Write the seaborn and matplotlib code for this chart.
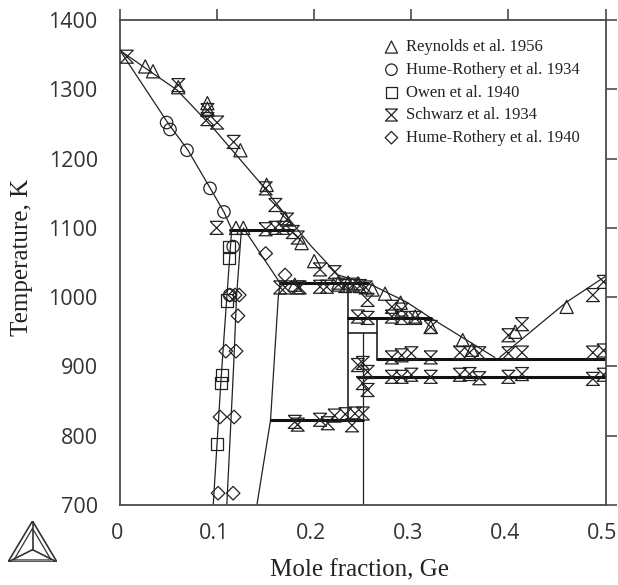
import matplotlib
matplotlib.use('Agg')
import matplotlib.pyplot as plt
import seaborn as sns
from matplotlib.path import Path
from matplotlib.transforms import ScaledTranslation

# measured points, mole fraction / temperature
reynolds_x = [0.026, 0.034, 0.060, 0.090, 0.090, 0.124, 0.151, 0.1195, 0.127, 0.170, 0.187, 0.200,
              0.225, 0.235, 0.245, 0.260, 0.273, 0.289, 0.304, 0.320, 0.353, 0.3625, 0.407, 0.460, 0.180]
reynolds_t = [1333, 1326, 1303, 1280, 1272, 1212, 1162, 1100, 1100, 1114, 1078, 1052,
              1021, 1021, 1020, 1011, 1005, 992, 972, 957, 938, 924, 950, 986, 1018]
hume34_x = [0.048, 0.0515, 0.069, 0.0927, 0.107, 0.1165, 0.113]
hume34_t = [1252, 1242, 1212, 1157, 1123, 1073, 1003]
owen_x = [0.1125, 0.1125, 0.110, 0.105, 0.104, 0.100]
owen_t = [1072, 1056, 995, 888, 876, 788]
schwarz_x = [0.007, 0.060, 0.090, 0.090, 0.100, 0.117, 0.150, 0.160, 0.0995, 0.150, 0.160, 0.168, 0.178, 0.172, 0.183,
             0.170, 0.183, 0.206, 0.213, 0.221, 0.206, 0.165, 0.185, 0.225, 0.232, 0.240, 0.247, 0.253, 0.255,
             0.245, 0.255, 0.280, 0.290, 0.280, 0.290, 0.304, 0.320,
             0.280, 0.290, 0.300, 0.320, 0.350, 0.360, 0.370, 0.400, 0.414, 0.487, 0.498,
             0.280, 0.290, 0.300, 0.320, 0.350, 0.360, 0.370, 0.400, 0.414, 0.487, 0.498,
             0.400, 0.414, 0.487, 0.498,
             0.245, 0.250, 0.255, 0.250, 0.255,
             0.180, 0.183, 0.206, 0.214, 0.221, 0.232, 0.242, 0.250, 0.239]
schwarz_t = [1347, 1306, 1270, 1257, 1252, 1224, 1157, 1133, 1100, 1098, 1100, 1100, 1094, 1112, 1086,
             1014, 1014, 1040, 1015, 1036, 1015, 1014, 1014, 1018, 1016, 1018, 1016, 1014, 996,
             972, 970, 986, 982, 972, 970, 970, 957,
             913, 916, 919, 913, 920, 920, 919, 919, 920, 920, 923,
             885, 885, 888, 885, 888, 889, 883, 885, 889, 882, 888,
             945, 961, 1003, 1022,
             902, 905, 892, 876, 866,
             820, 816, 823, 818, 829, 831, 832, 832, 815]
hume40_x = [0.101, 0.1165, 0.103, 0.1175, 0.109, 0.1195, 0.1215, 0.1228, 0.1185, 0.150, 0.170, 0.113]
hume40_t = [717, 717, 827, 827, 922, 922, 973, 1003, 1003, 1063, 1032, 1003]

liq_upper_x = [0, 0.0587, 0.096, 0.148, 0.1565, 0.196, 0.2245, 0.26, 0.295, 0.32, 0.386]
liq_upper_t = [1356, 1299, 1244, 1159, 1143, 1075, 1032, 1017, 993, 970, 913]
liq_right_x = [0.391, 0.46, 0.50]
liq_right_t = [913, 993, 1030]
liq_lower_x = [0, 0.05, 0.07, 0.093, 0.107, 0.115]
liq_lower_t = [1356, 1250, 1212, 1157, 1123, 1098]
liq_mid_x = [0.127, 0.165]
liq_mid_t = [1100, 1020]
sol_a_x = [0.115, 0.11, 0.104, 0.096]
sol_a_t = [1097, 1000, 880, 700]
sol_b_x = [0.125, 0.12, 0.117, 0.11]
sol_b_t = [1097, 1000, 900, 700]
sol_c_x = [0.165, 0.163, 0.155, 0.141]
sol_c_t = [1020, 1000, 822, 700]
thin_lines = [(liq_upper_x, liq_upper_t), (liq_right_x, liq_right_t), (liq_lower_x, liq_lower_t),
              (liq_mid_x, liq_mid_t), (sol_a_x, sol_a_t), (sol_b_x, sol_b_t), (sol_c_x, sol_c_t),
              ([0.25, 0.25], [948, 700])]
mid_lines = [([0.235, 0.235], [1020, 822]), ([0.265, 0.265], [970, 912]), ([0.235, 0.265], [948, 948])]
thick_lines = [([0.113, 0.178], [1097, 1097]), ([0.165, 0.255], [1020, 1020]), ([0.235, 0.32], [970, 970]),
               ([0.265, 0.5], [911, 911]), ([0.245, 0.5], [885, 885]), ([0.155, 0.25], [822, 822])]

x_ticks = [0, 0.1, 0.2, 0.3, 0.4, 0.5]
x_labels = ['0', '0.1', '0.2', '0.3', '0.4', '0.5']
y_ticks = [700, 800, 900, 1000, 1100, 1200, 1300, 1400]

hourglass = Path([(-1, 1), (1, 1), (-1, -1), (1, -1), (-1, 1)], closed=False)
INK = '#222222'
AXIS = '#4a4a4a'

sns.set_style('white')
fig = plt.figure(figsize=(6.18, 5.85), dpi=100)
ax = fig.add_axes([120 / 618, 1 - 505 / 585, 485.5 / 618, 485 / 585])

for xs, ts in thin_lines:
    sns.lineplot(x=xs, y=ts, sort=False, estimator=None, color=INK, lw=0.9, ax=ax)
for xs, ts in mid_lines:
    sns.lineplot(x=xs, y=ts, sort=False, estimator=None, color=INK, lw=1.2, ax=ax)
for xs, ts in thick_lines:
    sns.lineplot(x=xs, y=ts, sort=False, estimator=None, color='#111111', lw=2.2, ax=ax)

series = [(reynolds_x, reynolds_t, '^', 90, 'Reynolds et al. 1956'),
          (hume34_x, hume34_t, 'o', 80, 'Hume-Rothery et al. 1934'),
          (owen_x, owen_t, 's', 78, 'Owen et al. 1940'),
          (schwarz_x, schwarz_t, hourglass, 88, 'Schwarz et al. 1934'),
          (hume40_x, hume40_t, 'D', 48, 'Hume-Rothery et al. 1940')]
for xs, ts, mk, size, name in series:
    sns.scatterplot(x=xs, y=ts, marker=mk, s=size, facecolor='none', edgecolor=INK,
                    linewidth=0.9, label=name, ax=ax, zorder=3)

ax.set_xlim(0, 0.5)
ax.set_ylim(700, 1400)
ax.set_xticks(x_ticks, x_labels)
ax.set_yticks(y_ticks)
ax.tick_params(axis='both', which='major', direction='out', length=8, width=1.2, color=AXIS,
               top=True, right=True, labelsize=15.5, labelcolor='#333333')
ax.tick_params(axis='y', pad=8)
ax.tick_params(axis='x', pad=5)
for lab in ax.get_xticklabels() + ax.get_yticklabels():
    lab.set_fontfamily('Open Sans')
# x labels sit a little left of their ticks
shift = ScaledTranslation(-3 / 72 * 0.72, 0, fig.dpi_scale_trans)
for lab in ax.get_xticklabels():
    lab.set_transform(lab.get_transform() + shift)
for sp in ax.spines.values():
    sp.set_visible(True)
    sp.set_color(AXIS)
    sp.set_linewidth(1.3)

ax.set_xlabel('Mole fraction, Ge', family='Liberation Serif', fontsize=18, color='#222222')
ax.xaxis.set_label_coords(0.494, -0.113)
ax.set_ylabel('Temperature, K', family='Liberation Serif', fontsize=18, color='#222222')
ax.yaxis.set_label_coords(-0.179, 0.51)

leg = ax.legend(loc='upper left', bbox_to_anchor=(0.535, 0.96), frameon=False, markerscale=0.92,
                prop={'family': 'Liberation Serif', 'size': 12}, labelspacing=0.40,
                handletextpad=0.2, handlelength=1.4, borderpad=0, borderaxespad=0)
for txt in leg.get_texts():
    txt.set_color('#222222')

# small triangle logo, bottom left
logo_x = [0, 1, 0.5, 0]
logo_y = [0, 0, 1, 0]
logo_inner_x = [0.12, 0.88, 0.5, 0.12]
logo_inner_y = [0.05, 0.05, 0.82, 0.05]
logo_spoke_x = [[0, 0.5], [1, 0.5], [0.5, 0.5]]
logo_spoke_y = [[0, 0.3], [0, 0.3], [1, 0.3]]
lg = fig.add_axes([8 / 618, 1 - 562 / 585, 49 / 618, 41 / 585])
lg.axis('off')
sns.lineplot(x=logo_x, y=logo_y, sort=False, estimator=None, color='#333333', lw=1.2, ax=lg)
sns.lineplot(x=logo_inner_x, y=logo_inner_y, sort=False, estimator=None, color='#333333', lw=0.9, ax=lg)
for sx, sy in zip(logo_spoke_x, logo_spoke_y):
    sns.lineplot(x=sx, y=sy, sort=False, estimator=None, color='#333333', lw=1.2, ax=lg)
lg.set_xlim(0, 1)
lg.set_ylim(0, 1)

fig.savefig('out.png', dpi=100)
